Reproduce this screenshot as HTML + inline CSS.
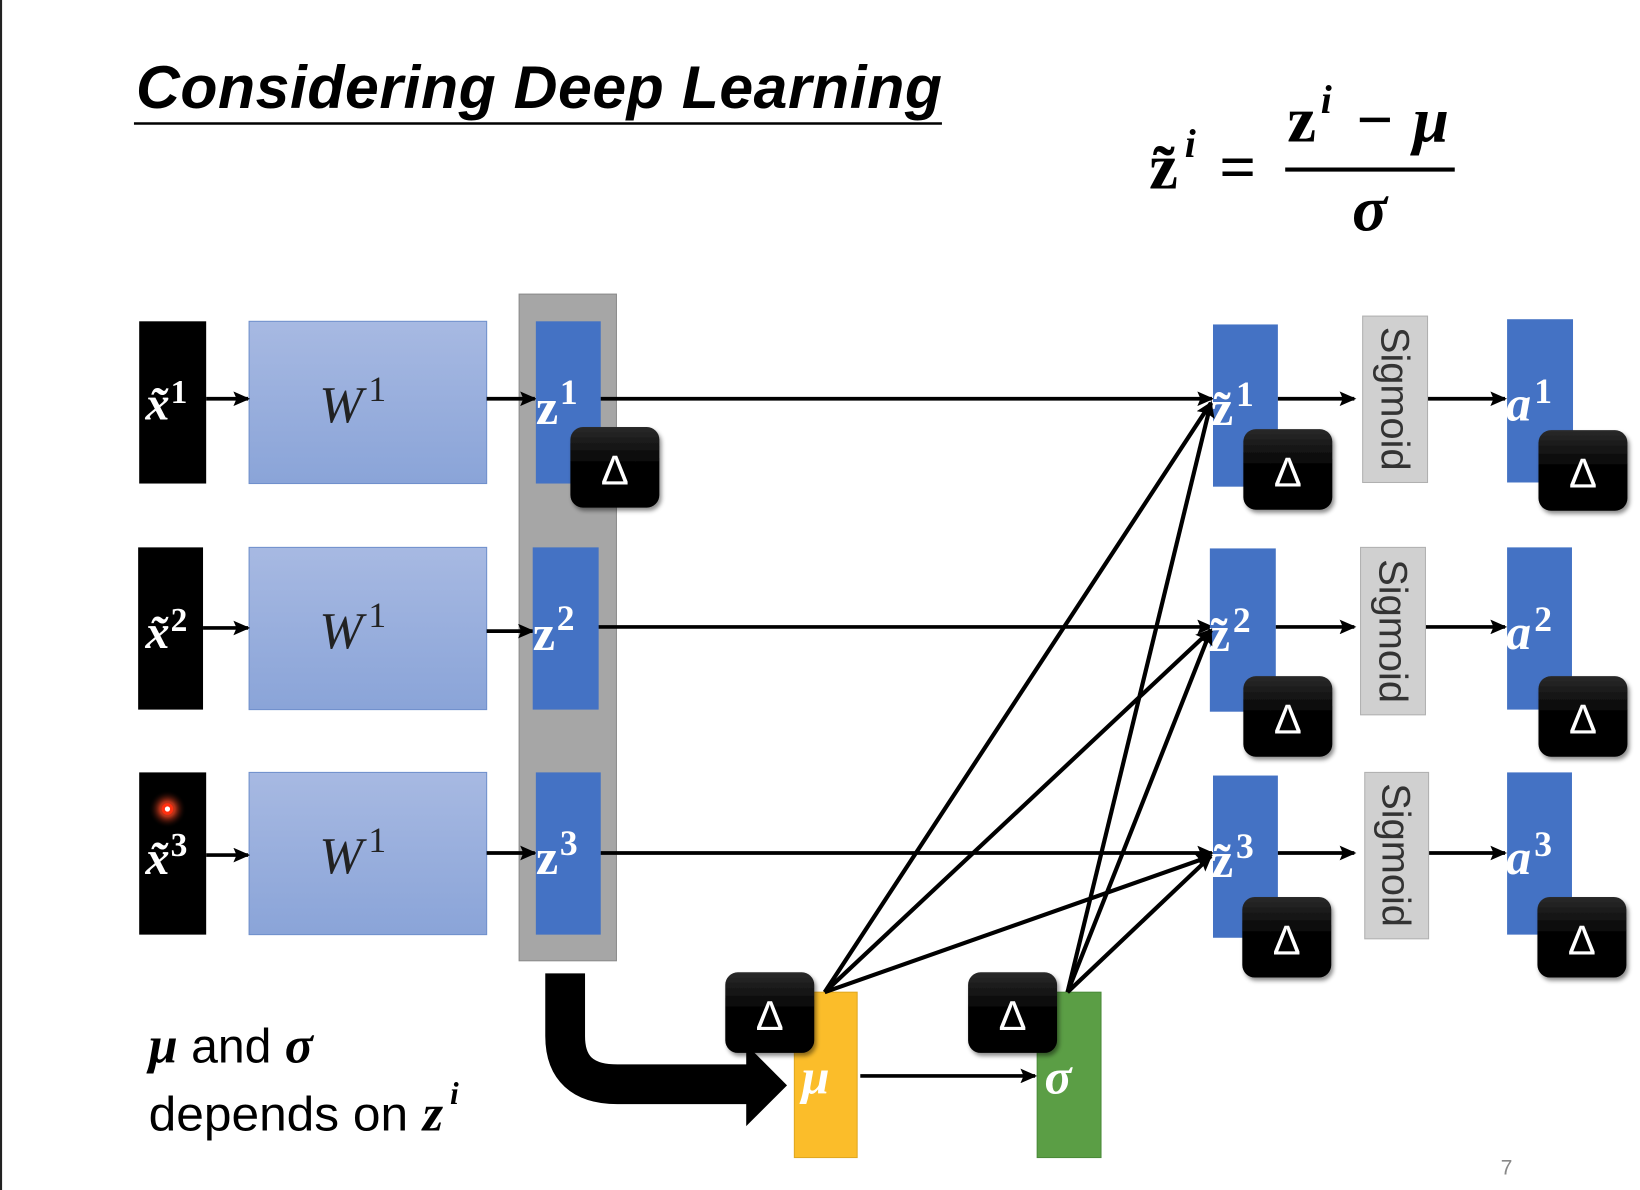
<!DOCTYPE html>
<html><head><meta charset="utf-8"><style>
html,body{margin:0;padding:0;background:#fff;}
svg{display:block;}
.m{font-family:"Liberation Serif",serif;font-weight:bold;}
</style></head><body>
<svg width="1640" height="1190" viewBox="0 0 1567 1137" preserveAspectRatio="none" xmlns="http://www.w3.org/2000/svg">
<defs>
<marker id="ah" markerWidth="16" markerHeight="14" refX="14" refY="7" orient="auto" markerUnits="userSpaceOnUse">
<path d="M0,0 L16,7 L0,14 L3,7 Z" fill="#000"/></marker>
<linearGradient id="wg" x1="0" y1="0" x2="0" y2="1"><stop offset="0" stop-color="#a7b9e2"/><stop offset="1" stop-color="#8aa4d8"/></linearGradient>
<linearGradient id="dg" x1="0" y1="0" x2="0" y2="1"><stop offset="0" stop-color="#2a2a2a"/><stop offset="0.5" stop-color="#000"/><stop offset="1" stop-color="#000"/></linearGradient>
<radialGradient id="rg"><stop offset="0" stop-color="#ff3010"/><stop offset="0.4" stop-color="#e04020" stop-opacity="0.8"/><stop offset="1" stop-color="#000" stop-opacity="0"/></radialGradient>
<filter id="sh" x="-20%" y="-20%" width="150%" height="150%"><feDropShadow dx="2" dy="3" stdDeviation="2" flood-opacity="0.45"/></filter>
<g id="delta"><rect x="0" y="0" width="85" height="77" rx="12" fill="url(#dg)" filter="url(#sh)"/><text x="42.5" y="55" font-family="Liberation Sans,sans-serif" font-size="40" fill="#fff" text-anchor="middle">Δ</text></g>
</defs>
<line x1="1" y1="0" x2="1" y2="1137" stroke="#222" stroke-width="2"/>
<text x="130" y="103" font-family="Liberation Sans,sans-serif" font-weight="bold" font-style="italic" font-size="58" fill="#000" textLength="770">Considering Deep Learning</text>
<line x1="128" y1="118" x2="900" y2="118" stroke="#000" stroke-width="2.5"/>
<g class="m" font-size="62" fill="#000">
<text x="1098" y="180">z̃</text><text x="1132" y="150" font-size="38" font-style="italic">i</text>
<text x="1165" y="180">=</text>
<text x="1230" y="135">z</text><text x="1262" y="108" font-size="38" font-style="italic">i</text>
<text x="1296" y="135">−</text><text x="1350" y="135" font-style="italic">μ</text>
<text x="1292" y="220" font-style="italic">σ</text>
</g>
<line x1="1228" y1="162" x2="1390" y2="162" stroke="#000" stroke-width="4"/>
<rect x="496" y="281" width="93" height="637" fill="#a6a6a6" stroke="#8a8a8a"/>
<rect x="133" y="307" width="64" height="155" fill="#000"/>
<rect x="132" y="523" width="62" height="155" fill="#000"/>
<rect x="133" y="738" width="64" height="155" fill="#000"/>
<circle cx="160" cy="773" r="18" fill="url(#rg)"/><circle cx="160" cy="773" r="4" fill="#fff" stroke="#ff3010" stroke-width="3"/>
<g class="m" fill="#fff" font-size="46" font-style="italic">
<text x="139" y="401">x̃</text><text x="139" y="619">x̃</text><text x="139" y="835">x̃</text></g>
<g class="m" fill="#fff" font-size="32"><text x="163" y="385">1</text><text x="163" y="603">2</text><text x="163" y="818">3</text></g>
<rect x="238" y="307" width="227" height="155" fill="url(#wg)" stroke="#7090cc"/>
<rect x="238" y="523" width="227" height="155" fill="url(#wg)" stroke="#7090cc"/>
<rect x="238" y="738" width="227" height="155" fill="url(#wg)" stroke="#7090cc"/>
<g font-family="Liberation Serif,serif" font-size="50" fill="#222">
<text x="305" y="403" font-style="italic">W</text><text x="352" y="383" font-size="34">1</text>
<text x="305" y="619" font-style="italic">W</text><text x="352" y="599" font-size="34">1</text>
<text x="305" y="834" font-style="italic">W</text><text x="352" y="814" font-size="34">1</text></g>
<g stroke="#000" stroke-width="3.5" marker-end="url(#ah)">
<line x1="197" y1="381" x2="237" y2="381"/><line x1="194" y1="600" x2="237" y2="600"/><line x1="197" y1="817" x2="237" y2="817"/>
<line x1="465" y1="381" x2="511" y2="381"/><line x1="465" y1="603" x2="509" y2="603"/><line x1="465" y1="815" x2="511" y2="815"/>
</g>
<rect x="512" y="307" width="62" height="155" fill="#4472c4"/>
<rect x="509" y="523" width="63" height="155" fill="#4472c4"/>
<rect x="512" y="738" width="62" height="155" fill="#4472c4"/>
<g class="m" fill="#fff"><text x="512" y="405" font-size="48">z</text><text x="535" y="386" font-size="34">1</text>
<text x="509" y="621" font-size="48">z</text><text x="532" y="602" font-size="34">2</text>
<text x="512" y="835" font-size="48">z</text><text x="535" y="817" font-size="34">3</text></g>
<use href="#delta" x="545" y="408"/>
<g stroke="#000" stroke-width="3.5" marker-end="url(#ah)">
<line x1="574" y1="381" x2="1158" y2="381"/><line x1="572" y1="599" x2="1158" y2="599"/><line x1="574" y1="815" x2="1158" y2="815"/>
</g>
<rect x="1159" y="310" width="62" height="155" fill="#4472c4"/>
<rect x="1156" y="524" width="63" height="156" fill="#4472c4"/>
<rect x="1159" y="741" width="62" height="155" fill="#4472c4"/>
<g class="m" fill="#fff"><text x="1157" y="406" font-size="48">z̃</text><text x="1181" y="388" font-size="34">1</text>
<text x="1154" y="622" font-size="48">z̃</text><text x="1178" y="604" font-size="34">2</text>
<text x="1157" y="838" font-size="48">z̃</text><text x="1181" y="820" font-size="34">3</text></g>
<g stroke="#000" stroke-width="3.5" marker-end="url(#ah)">
<line x1="1221" y1="381" x2="1294" y2="381"/><line x1="1219" y1="599" x2="1294" y2="599"/><line x1="1221" y1="815" x2="1294" y2="815"/>
<line x1="1364" y1="381" x2="1438" y2="381"/><line x1="1362" y1="599" x2="1438" y2="599"/><line x1="1365" y1="815" x2="1438" y2="815"/>
</g>
<rect x="1302" y="302" width="62" height="159" fill="#d0d0d0" stroke="#b0b0b0"/>
<rect x="1300" y="523" width="62" height="160" fill="#d0d0d0" stroke="#b0b0b0"/>
<rect x="1304" y="738" width="61" height="159" fill="#d0d0d0" stroke="#b0b0b0"/>
<g font-family="Liberation Sans,sans-serif" font-size="38" fill="#333" text-anchor="middle">
<text transform="translate(1320,381) rotate(90)">Sigmoid</text>
<text transform="translate(1318,603) rotate(90)">Sigmoid</text>
<text transform="translate(1321,817) rotate(90)">Sigmoid</text></g>
<rect x="1440" y="305" width="63" height="156" fill="#4472c4"/>
<rect x="1440" y="523" width="62" height="155" fill="#4472c4"/>
<rect x="1440" y="738" width="62" height="155" fill="#4472c4"/>
<g class="m" fill="#fff"><text x="1439" y="402" font-size="48" font-style="italic">a</text><text x="1466" y="385" font-size="34">1</text>
<text x="1439" y="620" font-size="48" font-style="italic">a</text><text x="1466" y="603" font-size="34">2</text>
<text x="1439" y="835" font-size="48" font-style="italic">a</text><text x="1466" y="818" font-size="34">3</text></g>
<rect x="759" y="948" width="60" height="158" fill="#fbbd2a" stroke="#e0a820"/>
<rect x="991" y="948" width="61" height="158" fill="#5b9e45" stroke="#4a8a38"/>
<g class="m" fill="#fff" font-size="48" font-style="italic"><text x="766" y="1045">μ</text><text x="998" y="1045">σ</text></g>
<line x1="822" y1="1028" x2="989" y2="1028" stroke="#000" stroke-width="3.5" marker-end="url(#ah)"/>
<g stroke="#000" stroke-width="4" marker-end="url(#ah)">
<line x1="788" y1="948" x2="1157" y2="385"/><line x1="788" y1="948" x2="1157" y2="602"/><line x1="788" y1="948" x2="1157" y2="818"/>
<line x1="1020" y1="948" x2="1157" y2="385"/><line x1="1020" y1="948" x2="1157" y2="602"/><line x1="1020" y1="948" x2="1157" y2="818"/>
</g>
<use href="#delta" x="1188" y="410"/><use href="#delta" x="1188" y="646"/><use href="#delta" x="1187" y="857"/>
<use href="#delta" x="1470" y="411"/><use href="#delta" x="1470" y="646"/><use href="#delta" x="1469" y="857"/>
<path d="M540,930 L540,990 Q540,1036 590,1036 L715,1036" fill="none" stroke="#000" stroke-width="38"/>
<path d="M713,998 L752,1037 L713,1076 Z" fill="#000"/>
<use href="#delta" x="693" y="929"/><use href="#delta" x="925" y="929"/>
<g font-family="Liberation Sans,sans-serif" font-size="46" fill="#000">
<text x="142" y="1015"><tspan class="m" font-style="italic" font-size="50">μ</tspan> and <tspan class="m" font-style="italic" font-size="50">σ</tspan></text>
<text x="142" y="1080" textLength="248" lengthAdjust="spacingAndGlyphs">depends on</text>
<text x="404" y="1080" class="m" font-style="italic" font-size="50">z</text>
<text x="430" y="1055" class="m" font-style="italic" font-size="30">i</text>
</g>
<text x="1434" y="1122" font-family="Liberation Sans,sans-serif" font-size="20" fill="#888">7</text>
</svg>
</body></html>
